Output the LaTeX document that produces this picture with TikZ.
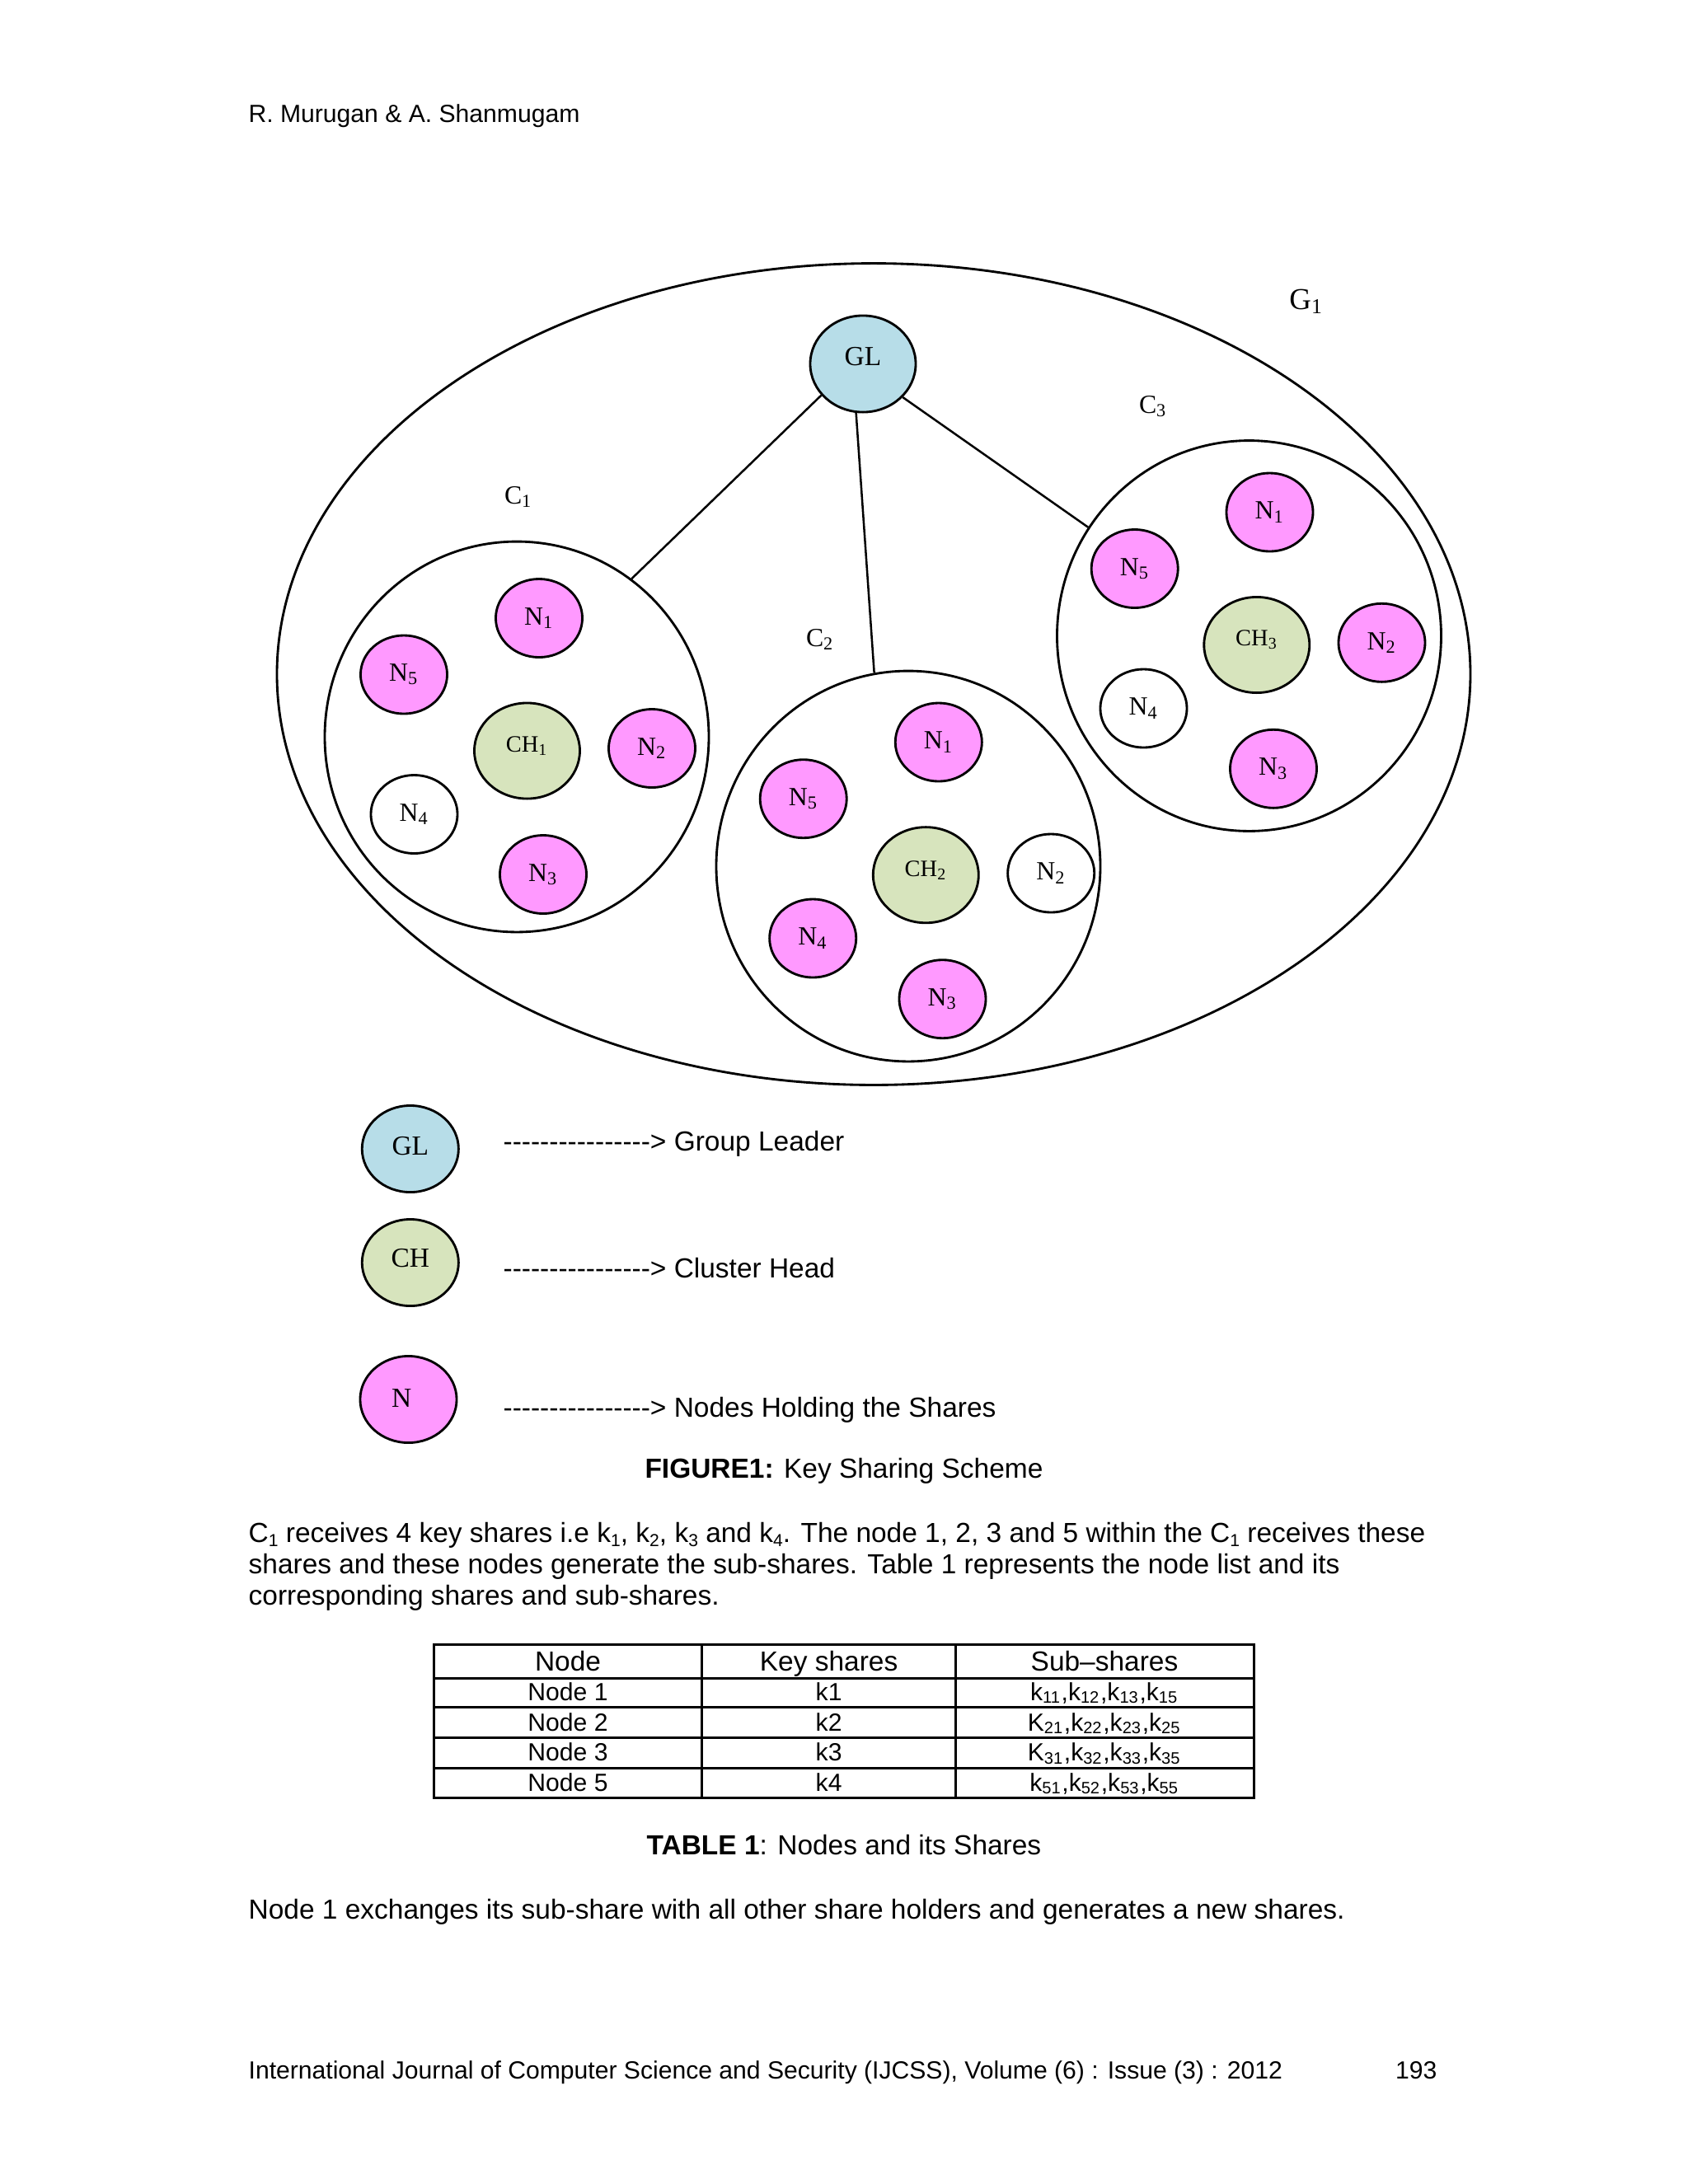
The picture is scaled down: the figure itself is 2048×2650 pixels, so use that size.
\documentclass[tikz,border=0pt]{standalone}
\usepackage{fontspec}
\setmainfont{Liberation Serif}
\newfontfamily\arl{Liberation Sans}
\usetikzlibrary{shapes.geometric}
\definecolor{glblue}{RGB}{183,221,232}
\definecolor{chgreen}{RGB}{215,228,189}
\definecolor{npink}{RGB}{255,153,255}
\newcommand{\psub}[1]{\raisebox{-0.3ex}{\fontsize{6.3}{7}\selectfont #1}}
\tikzset{
  outl/.style={draw=black, line width=0.85pt},
  bubble/.style={ellipse, outl, inner sep=0pt, minimum width=31.4pt, minimum height=28.4pt, font=\fontsize{9.5}{10}\selectfont},
  sharenode/.style={bubble, fill=npink},
  plainnode/.style={bubble, fill=white},
  headnode/.style={ellipse, outl, inner sep=0pt, fill=chgreen, minimum width=38.25pt, minimum height=34.7pt, font=\fontsize{8.5}{10}\selectfont, text height=7pt, text depth=6.2pt},
  leadnode/.style={ellipse, outl, inner sep=0pt, fill=glblue, minimum width=38.25pt, minimum height=35pt, font=\fontsize{10}{12}\selectfont, text height=7pt, text depth=5.8pt},
  cluster/.style={ellipse, outl, inner sep=0pt, minimum width=139.25pt, minimum height=141.6pt},
  grp/.style={ellipse, outl, inner sep=0pt, minimum width=432.7pt, minimum height=297.9pt},
  clabel/.style={inner sep=0pt, font=\fontsize{9.5}{11}\selectfont},
  legendnode/.style={ellipse, outl, inner sep=0pt, minimum width=35pt, minimum height=31.4pt, font=\fontsize{10}{12}\selectfont, text height=7pt},
  txt/.style={inner sep=0pt, anchor=base west, font=\arl\fontsize{10}{12}\selectfont},
  smalltxt/.style={inner sep=0pt, font=\arl\fontsize{9}{11}\selectfont},
  cell/.style={inner sep=0pt, anchor=base, font=\arl\fontsize{9}{11}\selectfont},
  headcell/.style={inner sep=0pt, anchor=base, font=\arl\fontsize{10}{12}\selectfont},
  conn/.style={draw=black, line width=0.75pt},
  rulestyle/.style={draw=black, line width=0.9pt},
}
\begin{document}
\begin{tikzpicture}[x=0.298828pt,y=-0.298828pt]
\useasboundingbox[fill=white] (0,0) rectangle (2048,2650);

% header
\node[smalltxt, anchor=base west] (hdr) at (301,148) {R. Murugan \& A. Shanmugam};

% group ellipse
\node[grp] (g1) at (1060,818) {};
\node[clabel, font=\fontsize{11}{12}\selectfont] (g1lab) at (1585,366) {G\textsubscript{1}};

% group leader
\node[leadnode] (gl) at (1047,441.5) {GL};

% clusters
\node[cluster] (c1) at (627,894) {};
\node[cluster] (c2) at (1102,1051) {};
\node[cluster] (c3) at (1515.5,771.5) {};
\node[clabel] (c1lab) at (629,603) {C\textsubscript{1}};
\node[clabel] (c2lab) at (995,776) {C\textsubscript{2}};
\node[clabel] (c3lab) at (1399,493) {C\textsubscript{3}};

% connectors
\draw[conn] (gl.217) -- (c1.54);
\draw[conn] (gl.262) -- (c2.100);
\draw[conn] (gl.320) -- (c3.146);

% cluster 1
\node[sharenode] (a1) at (654,750) {N\textsubscript{1}};
\node[sharenode] (a5) at (490,818.5) {N\textsubscript{5}};
\node[headnode] (ach) at (639.5,911) {CH\textsubscript{1}};
\node[sharenode] (a2) at (791,908) {N\textsubscript{2}};
\node[plainnode] (a4) at (502.5,988) {N\textsubscript{4}};
\node[sharenode] (a3) at (659,1061) {N\textsubscript{3}};

% cluster 2
\node[sharenode] (b1) at (1138.8,900.5) {N\textsubscript{1}};
\node[sharenode] (b5) at (974.7,969.2) {N\textsubscript{5}};
\node[headnode] (bch) at (1123.3,1061.7) {CH\textsubscript{2}};
\node[plainnode] (b2) at (1275.2,1059.5) {N\textsubscript{2}};
\node[sharenode] (b4) at (986.2,1138.5) {N\textsubscript{4}};
\node[sharenode] (b3) at (1143.5,1212.2) {N\textsubscript{3}};

% cluster 3
\node[sharenode] (d1) at (1540.5,621.5) {N\textsubscript{1}};
\node[sharenode] (d5) at (1376.7,690) {N\textsubscript{5}};
\node[headnode] (dch) at (1524.8,782.5) {CH\textsubscript{3}};
\node[sharenode] (d2) at (1676.5,779.8) {N\textsubscript{2}};
\node[plainnode] (d4) at (1387.5,859.5) {N\textsubscript{4}};
\node[sharenode] (d3) at (1545,932.8) {N\textsubscript{3}};

% legend
\node[legendnode, fill=glblue, text depth=2.8pt] (lgl) at (497.8,1394) {GL};
\node[legendnode, fill=chgreen, text depth=4pt] (lch) at (497.8,1532) {CH};
\node[legendnode, fill=npink, text depth=1.6pt] (ln) at (495.5,1698) {N\hspace*{5pt}};
\node[txt] (lgltxt) at (610,1396) {---------------{}-> Group Leader};
\node[txt] (lchtxt) at (610,1550) {---------------{}-> Cluster Head};
\node[txt] (lntxt) at (610,1719) {---------------{}-> Nodes Holding the Shares};

% caption
\node[txt, anchor=base] (cap1) at (1024,1793) {\textbf{FIGURE1:} Key Sharing Scheme};

% paragraph
\node[txt] (p1) at (301,1871) {C\psub{1} receives 4 key shares i.e k\psub{1}, k\psub{2}, k\psub{3} and k\psub{4}. The node 1, 2, 3 and 5 within the C\psub{1} receives these};
\node[txt] (p2) at (301,1909) {shares and these nodes generate the sub-shares. Table 1 represents the node list and its};
\node[txt] (p3) at (301,1947) {corresponding shares and sub-shares.};

% table
\draw[rulestyle] (526.8,1995.7) rectangle (1521,2181.7);
\foreach \yy in {2036,2071.7,2108.3,2145} \draw[rulestyle] (526.8,\yy) -- (1521,\yy);
\foreach \xx in {851.6,1159.6} \draw[rulestyle] (\xx,1995.7) -- (\xx,2181.7);
\node[headcell] (th1) at (689,2027) {Node};
\node[headcell] (th2) at (1005.6,2027) {Key shares};
\node[headcell] (th3) at (1340,2027) {Sub–shares};
\node[cell] (r1a) at (689,2063) {Node 1};
\node[cell] (r1b) at (1005.6,2063) {k1};
\node[cell] (r1c) at (1340,2063) {k\textsubscript{11},k\textsubscript{12},k\textsubscript{13},k\textsubscript{15}};
\node[cell] (r2a) at (689,2100) {Node 2};
\node[cell] (r2b) at (1005.6,2100) {k2};
\node[cell] (r2c) at (1340,2100) {K\textsubscript{21},k\textsubscript{22},k\textsubscript{23},k\textsubscript{25}};
\node[cell] (r3a) at (689,2136.7) {Node 3};
\node[cell] (r3b) at (1005.6,2136.7) {k3};
\node[cell] (r3c) at (1340,2136.7) {K\textsubscript{31},k\textsubscript{32},k\textsubscript{33},k\textsubscript{35}};
\node[cell] (r4a) at (689,2173.3) {Node 5};
\node[cell] (r4b) at (1005.6,2173.3) {k4};
\node[cell] (r4c) at (1340,2173.3) {k\textsubscript{51},k\textsubscript{52},k\textsubscript{53},k\textsubscript{55}};

\node[txt, anchor=base] (cap2) at (1024,2250) {\textbf{TABLE 1}: Nodes and its Shares};
\node[txt] (p4) at (301,2328) {Node 1 exchanges its sub-share with all other share holders and generates a new shares.};

% footer
\node[smalltxt, anchor=base west] (ftr) at (301,2522) {International Journal of Computer Science and Security (IJCSS), Volume (6) : Issue (3) : 2012};
\node[smalltxt, anchor=base east] (pg) at (1744,2522) {193};
\end{tikzpicture}
\end{document}
